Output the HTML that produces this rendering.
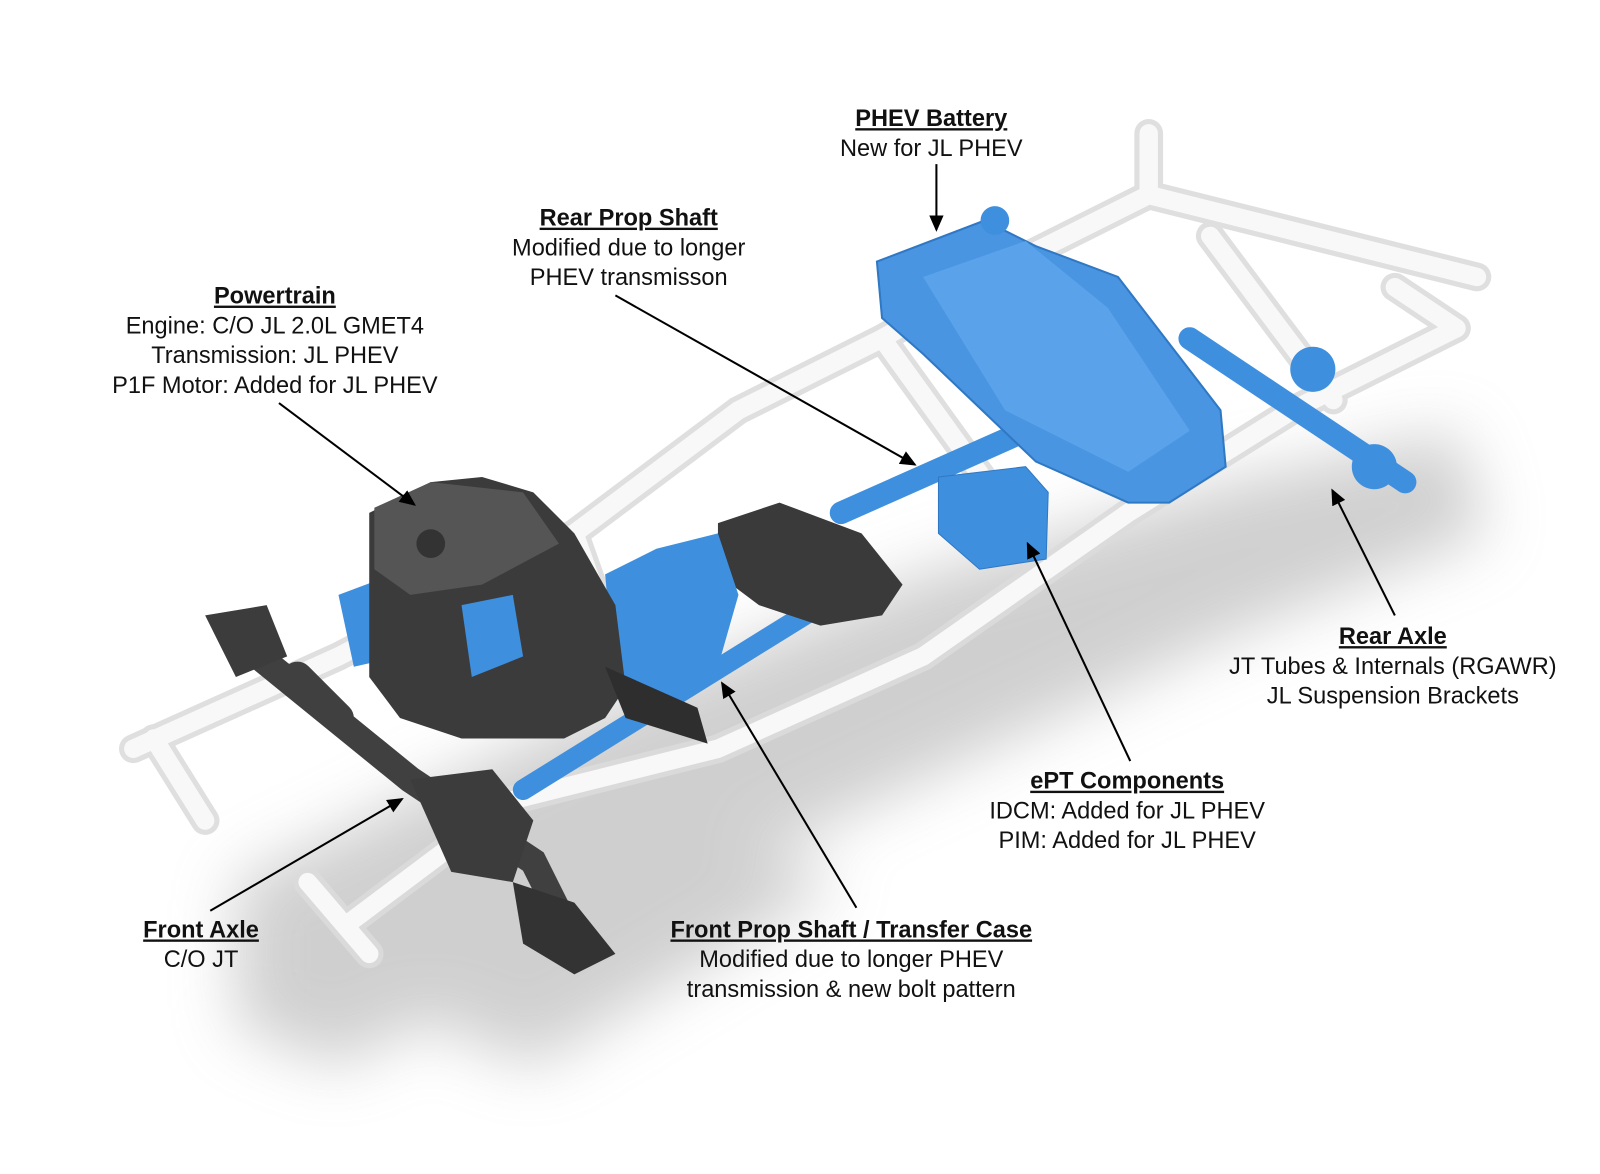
<!DOCTYPE html>
<html><head><meta charset="utf-8"><style>
html,body{margin:0;padding:0;background:#fff;width:1600px;height:1174px;overflow:hidden}
svg{display:block}
text{font-family:"Liberation Sans",Arial,sans-serif;font-size:23px;fill:#111;text-anchor:middle}
.t{font-weight:bold;text-decoration:underline}
</style></head><body>
<svg width="1600" height="1174" viewBox="0 0 1560 1144.6" xmlns="http://www.w3.org/2000/svg">
<defs>
<filter id="b" x="-20%" y="-20%" width="140%" height="140%"><feGaussianBlur stdDeviation="30"/></filter>
<marker id="a" markerWidth="16" markerHeight="14" refX="14" refY="7" orient="auto" markerUnits="userSpaceOnUse"><path d="M0,0 L16,7 L0,14 z" fill="#000"/></marker>
</defs>
<!-- shadow -->
<g filter="url(#b)" fill="#c4c4c4" opacity="0.8">
<path d="M230,860 L560,700 L900,560 L1200,470 L1420,420 L1450,520 L1200,620 L900,760 L600,900 L330,1040 L230,1000 z"/>
<path d="M380,980 L700,820 L820,860 L520,1040 z"/>
</g>
<!-- frame -->
<g fill="none" stroke-linecap="round" stroke-linejoin="round">
<g stroke="#dcdcdc" stroke-width="28" opacity="0.9">
<path d="M130,730 L330,640 L560,520 L720,400 L860,330 L1000,250 L1120,190 L1440,270"/>
<path d="M340,900 L500,780 L700,730 L900,640 L1100,500 L1260,400 L1420,320"/>
<path d="M1120,130 L1120,190"/><path d="M1360,280 L1420,320"/>
<path d="M560,520 L620,690"/><path d="M860,330 L990,510"/><path d="M1180,230 L1300,390"/>
<path d="M150,720 L200,800"/><path d="M300,860 L360,930"/>
</g>
<g stroke="#f8f8f8" stroke-width="18">
<path d="M130,730 L330,640 L560,520 L720,400 L860,330 L1000,250 L1120,190 L1440,270"/>
<path d="M340,900 L500,780 L700,730 L900,640 L1100,500 L1260,400 L1420,320"/>
<path d="M1120,130 L1120,190"/><path d="M1360,280 L1420,320"/>
<path d="M560,520 L620,690"/><path d="M860,330 L990,510"/><path d="M1180,230 L1300,390"/>
<path d="M150,720 L200,800"/><path d="M300,860 L360,930"/>
</g>
</g>
<g stroke="#3f8fdf" stroke-linecap="round" fill="none">
<path d="M1160,330 L1370,470" stroke-width="22"/>
<path d="M820,500 L1000,420" stroke-width="22"/>
<path d="M510,770 L800,590" stroke-width="20"/>
</g>
<circle cx="1280" cy="360" r="22" fill="#3f8fdf"/>
<circle cx="1340" cy="455" r="22" fill="#3f8fdf"/>
<path d="M855,255 L960,215 L1010,240 L1090,270 L1190,400 L1195,455 L1140,490 L1100,490 L1010,450 L900,345 L860,310 z" fill="#4a95e2" stroke="#2f78c4" stroke-width="2"/>
<path d="M900,270 L1000,235 L1080,300 L1160,420 L1100,460 L980,400 z" fill="#5aa2ea"/>
<path d="M915,465 L1000,455 L1022,480 L1020,545 L955,555 L915,520 z" fill="#3f8fdf" stroke="#2f78c4"/>
<circle cx="970" cy="215" r="14" fill="#3f8fdf"/>
<path d="M700,510 L760,490 L840,520 L880,570 L860,600 L800,610 L740,590 L700,560 z" fill="#3a3a3a"/>
<path d="M590,560 L640,535 L700,520 L720,580 L700,650 L640,690 L600,670 z" fill="#3f8fdf"/>
<path d="M400,630 L470,620 L495,670 L440,700 L410,690 z" fill="#3f8fdf"/>
<path d="M330,580 L370,565 L390,640 L345,650 z" fill="#3f8fdf"/>
<path d="M360,500 L420,470 L470,465 L520,480 L560,520 L600,590 L610,670 L590,700 L550,720 L450,720 L390,700 L360,660 z" fill="#3b3b3b"/>
<path d="M365,495 L420,470 L510,480 L545,530 L470,570 L400,580 L365,555 z" fill="#555"/>
<circle cx="420" cy="530" r="14" fill="#333"/>
<path d="M590,650 L680,690 L690,725 L610,700 z" fill="#2e2e2e"/>
<path d="M450,590 L500,580 L510,640 L460,660 z" fill="#3f8fdf"/>
<g stroke="#404040" stroke-linecap="round" fill="none">
<path d="M240,630 L400,760 L520,840 L560,920" stroke-width="26"/>
<path d="M290,660 L330,700" stroke-width="30"/>
</g>
<path d="M200,600 L260,590 L280,640 L230,660 z" fill="#3c3c3c"/>
<path d="M400,760 L480,750 L520,800 L500,860 L440,850 z" fill="#3c3c3c"/>
<path d="M500,860 L560,880 L600,930 L560,950 L510,920 z" fill="#333"/>
<g stroke="#000" stroke-width="2" marker-end="url(#a)">
<line x1="913" y1="160" x2="913" y2="224"/>
<line x1="600" y1="288" x2="892" y2="453"/>
<line x1="272" y1="393" x2="404" y2="492"/>
<line x1="1360" y1="600" x2="1299" y2="478"/>
<line x1="1102" y1="742" x2="1002" y2="530"/>
<line x1="205" y1="888" x2="392" y2="779"/>
<line x1="835" y1="885" x2="704" y2="666"/>
</g>
<text class="t" x="908" y="123">PHEV Battery</text>
<text x="908" y="152">New for JL PHEV</text>
<text class="t" x="613" y="220">Rear Prop Shaft</text>
<text x="613" y="249">Modified due to longer</text>
<text x="613" y="278">PHEV transmisson</text>
<text class="t" x="268" y="296">Powertrain</text>
<text x="268" y="325">Engine: C/O JL 2.0L GMET4</text>
<text x="268" y="354">Transmission: JL PHEV</text>
<text x="268" y="383">P1F Motor: Added for JL PHEV</text>
<text class="t" x="1358" y="628">Rear Axle</text>
<text x="1358" y="657">JT Tubes &amp; Internals (RGAWR)</text>
<text x="1358" y="686">JL Suspension Brackets</text>
<text class="t" x="1099" y="769">ePT Components</text>
<text x="1099" y="798">IDCM: Added for JL PHEV</text>
<text x="1099" y="827">PIM: Added for JL PHEV</text>
<text class="t" x="196" y="914">Front Axle</text>
<text x="196" y="943">C/O JT</text>
<text class="t" x="830" y="914">Front Prop Shaft / Transfer Case</text>
<text x="830" y="943">Modified due to longer PHEV</text>
<text x="830" y="972">transmission &amp; new bolt pattern</text>
</svg>
</body></html>
